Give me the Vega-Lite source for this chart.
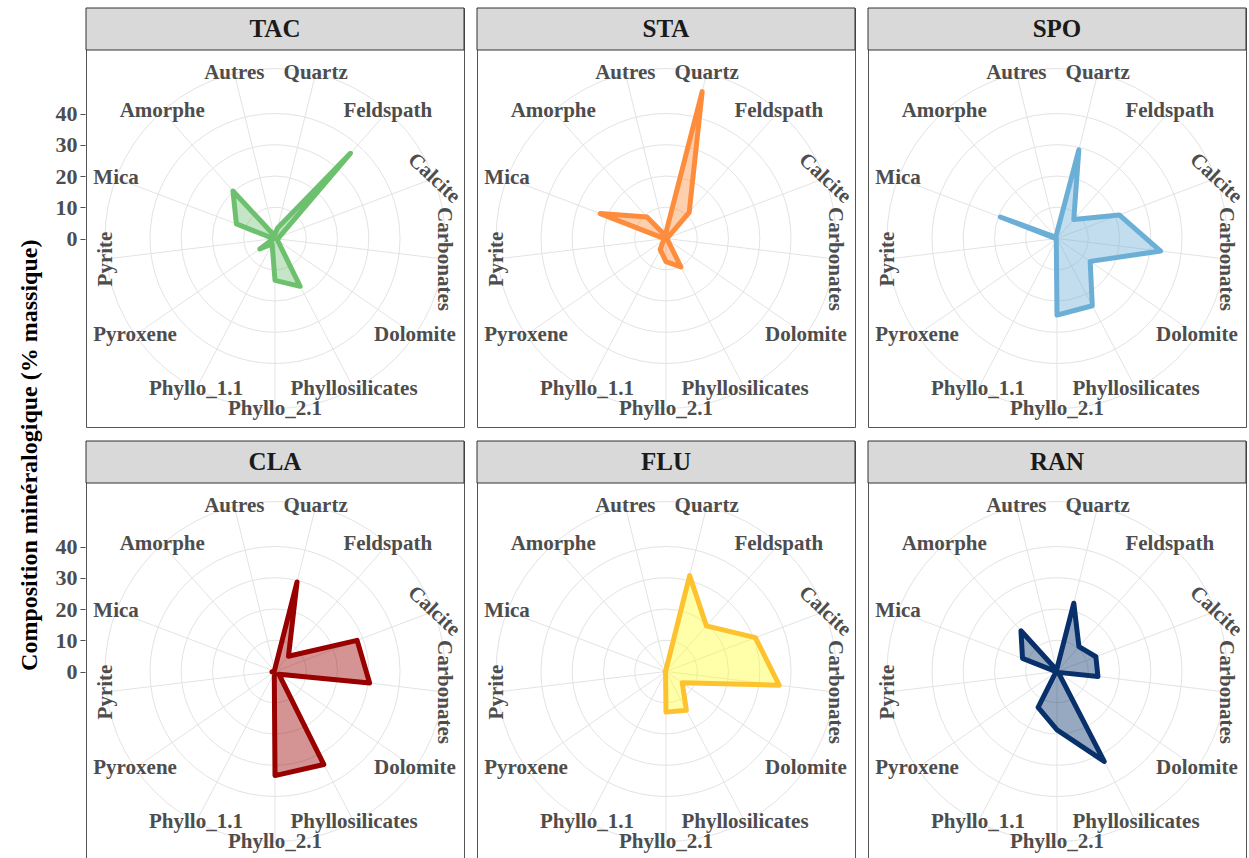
{
  "$schema": "https://vega.github.io/schema/vega-lite/v6.json",
  "padding": {"left": 17, "top": 6, "right": 0, "bottom": 0},
  "background": "white",
  "title": {"text": "Composition minéralogique (% massique)", "orient": "left", "anchor": "middle", "font": "Liberation Serif", "fontSize": 24, "fontWeight": "bold", "color": "#000000", "offset": 13, "dx": -22},
  "data": {"values": [
    {"site": "TAC", "mineral": "Quartz", "value": 3.5},
    {"site": "TAC", "mineral": "Feldspath", "value": 36.4},
    {"site": "TAC", "mineral": "Calcite", "value": 1.5},
    {"site": "TAC", "mineral": "Carbonates", "value": 1.0},
    {"site": "TAC", "mineral": "Dolomite", "value": 1.0},
    {"site": "TAC", "mineral": "Phyllosilicates", "value": 17.3},
    {"site": "TAC", "mineral": "Phyllo_2.1", "value": 13.4},
    {"site": "TAC", "mineral": "Phyllo_1.1", "value": 2.0},
    {"site": "TAC", "mineral": "Pyroxene", "value": 5.9},
    {"site": "TAC", "mineral": "Pyrite", "value": 0.5},
    {"site": "TAC", "mineral": "Mica", "value": 13.2},
    {"site": "TAC", "mineral": "Amorphe", "value": 20.3},
    {"site": "TAC", "mineral": "Autres", "value": 1.0},
    {"site": "STA", "mineral": "Quartz", "value": 48.4},
    {"site": "STA", "mineral": "Feldspath", "value": 11.2},
    {"site": "STA", "mineral": "Calcite", "value": 0.5},
    {"site": "STA", "mineral": "Carbonates", "value": 0.5},
    {"site": "STA", "mineral": "Dolomite", "value": 0.5},
    {"site": "STA", "mineral": "Phyllosilicates", "value": 10.3},
    {"site": "STA", "mineral": "Phyllo_2.1", "value": 7.4},
    {"site": "STA", "mineral": "Phyllo_1.1", "value": 4.0},
    {"site": "STA", "mineral": "Pyroxene", "value": 1.0},
    {"site": "STA", "mineral": "Pyrite", "value": 0.5},
    {"site": "STA", "mineral": "Mica", "value": 22.5},
    {"site": "STA", "mineral": "Amorphe", "value": 9.2},
    {"site": "STA", "mineral": "Autres", "value": 1.0},
    {"site": "SPO", "mineral": "Quartz", "value": 29.2},
    {"site": "SPO", "mineral": "Feldspath", "value": 8.1},
    {"site": "SPO", "mineral": "Calcite", "value": 21.3},
    {"site": "SPO", "mineral": "Carbonates", "value": 33.4},
    {"site": "SPO", "mineral": "Dolomite", "value": 12.9},
    {"site": "SPO", "mineral": "Phyllosilicates", "value": 24.3},
    {"site": "SPO", "mineral": "Phyllo_2.1", "value": 24.5},
    {"site": "SPO", "mineral": "Phyllo_1.1", "value": 0.5},
    {"site": "SPO", "mineral": "Pyroxene", "value": 0.3},
    {"site": "SPO", "mineral": "Pyrite", "value": 0.3},
    {"site": "SPO", "mineral": "Mica", "value": 19.4},
    {"site": "SPO", "mineral": "Amorphe", "value": 0.5},
    {"site": "SPO", "mineral": "Autres", "value": 1.0},
    {"site": "CLA", "mineral": "Quartz", "value": 29.5},
    {"site": "CLA", "mineral": "Feldspath", "value": 6.5},
    {"site": "CLA", "mineral": "Calcite", "value": 28.1},
    {"site": "CLA", "mineral": "Carbonates", "value": 30.5},
    {"site": "CLA", "mineral": "Dolomite", "value": 1.5},
    {"site": "CLA", "mineral": "Phyllosilicates", "value": 33.6},
    {"site": "CLA", "mineral": "Phyllo_2.1", "value": 33.3},
    {"site": "CLA", "mineral": "Phyllo_1.1", "value": 0.5},
    {"site": "CLA", "mineral": "Pyroxene", "value": 0.3},
    {"site": "CLA", "mineral": "Pyrite", "value": 1.0},
    {"site": "CLA", "mineral": "Mica", "value": 0.3},
    {"site": "CLA", "mineral": "Amorphe", "value": 0.3},
    {"site": "CLA", "mineral": "Autres", "value": 0.5},
    {"site": "FLU", "mineral": "Quartz", "value": 31.6},
    {"site": "FLU", "mineral": "Feldspath", "value": 19.5},
    {"site": "FLU", "mineral": "Calcite", "value": 30.6},
    {"site": "FLU", "mineral": "Carbonates", "value": 36.5},
    {"site": "FLU", "mineral": "Dolomite", "value": 6.3},
    {"site": "FLU", "mineral": "Phyllosilicates", "value": 14.0},
    {"site": "FLU", "mineral": "Phyllo_2.1", "value": 13.0},
    {"site": "FLU", "mineral": "Phyllo_1.1", "value": 0.3},
    {"site": "FLU", "mineral": "Pyroxene", "value": 0.3},
    {"site": "FLU", "mineral": "Pyrite", "value": 0.3},
    {"site": "FLU", "mineral": "Mica", "value": 0.3},
    {"site": "FLU", "mineral": "Amorphe", "value": 0.3},
    {"site": "FLU", "mineral": "Autres", "value": 0.3},
    {"site": "RAN", "mineral": "Quartz", "value": 22.5},
    {"site": "RAN", "mineral": "Feldspath", "value": 10.6},
    {"site": "RAN", "mineral": "Calcite", "value": 13.3},
    {"site": "RAN", "mineral": "Carbonates", "value": 13.2},
    {"site": "RAN", "mineral": "Dolomite", "value": 0.5},
    {"site": "RAN", "mineral": "Phyllosilicates", "value": 32.5},
    {"site": "RAN", "mineral": "Phyllo_2.1", "value": 18.7},
    {"site": "RAN", "mineral": "Phyllo_1.1", "value": 13.0},
    {"site": "RAN", "mineral": "Pyroxene", "value": 0.5},
    {"site": "RAN", "mineral": "Pyrite", "value": 0.3},
    {"site": "RAN", "mineral": "Mica", "value": 11.8},
    {"site": "RAN", "mineral": "Amorphe", "value": 17.4},
    {"site": "RAN", "mineral": "Autres", "value": 0.5}
  ]},
  "transform": [
    {"calculate": "indexof(['Quartz','Feldspath','Calcite','Carbonates','Dolomite','Phyllosilicates','Phyllo_2.1','Phyllo_1.1','Pyroxene','Pyrite','Mica','Amorphe','Autres'], datum.mineral) + 1", "as": "idx"},
    {"calculate": "(datum.idx - 0.5) * 2 * PI / 13", "as": "ang"},
    {"calculate": "datum.value * sin(datum.ang)", "as": "px"},
    {"calculate": "datum.value * cos(datum.ang)", "as": "py"},
    {"calculate": "54.4 * sin(datum.ang)", "as": "sx"},
    {"calculate": "54.4 * cos(datum.ang)", "as": "sy"},
    {"calculate": "0", "as": "c0"},
    {"calculate": "datum.mineral === 'Calcite' ? 43 : datum.mineral === 'Carbonates' ? 90 : datum.mineral === 'Pyrite' ? 270 : 0", "as": "rot"}
  ],
  "facet": {"field": "site", "type": "nominal", "sort": ["TAC", "STA", "SPO", "CLA", "FLU", "RAN"], "header": {"labels": false, "title": null, "labelExpr": "''", "labelFontSize": 1, "labelPadding": 0}},
  "columns": 3,
  "spacing": {"row": 11, "column": 11},
  "spec": {
    "width": 378,
    "height": 419,
    "layer": [
      {
        "transform": [
          {"filter": "datum.idx <= 5"},
          {"calculate": "[10, 20, 30, 40, 54.4][datum.idx - 1]", "as": "ring"}
        ],
        "mark": {"type": "point", "shape": "circle", "filled": false, "color": "#e3e3e3", "strokeWidth": 1, "opacity": 1},
        "encoding": {
          "x": {"field": "c0", "type": "quantitative", "scale": {"domain": [-60.48, 60.48], "nice": false, "zero": false}, "axis": null},
          "y": {"field": "c0", "type": "quantitative", "scale": {"domain": [-60.32, 73.76], "nice": false, "zero": false}, "axis": {"values": [0, 10, 20, 30, 40]}, "title": null},
          "size": {"field": "ring", "type": "quantitative", "scale": {"type": "pow", "exponent": 2, "domain": [0, 54.4], "range": [0, 115600]}, "legend": null}
        }
      },
      {
        "mark": {"type": "rule", "color": "#e3e3e3", "strokeWidth": 1},
        "encoding": {
          "x": {"field": "c0", "type": "quantitative"},
          "y": {"field": "c0", "type": "quantitative", "title": null},
          "x2": {"field": "sx"},
          "y2": {"field": "sy"}
        }
      },
      {
        "mark": {"type": "line", "interpolate": "linear-closed", "strokeWidth": 5, "strokeJoin": "round", "fillOpacity": 0.42},
        "encoding": {
          "x": {"field": "px", "type": "quantitative"},
          "y": {"field": "py", "type": "quantitative", "title": null},
          "order": {"field": "idx", "type": "quantitative"},
          "color": {"field": "site", "type": "nominal", "scale": {"domain": ["TAC", "STA", "SPO", "CLA", "FLU", "RAN"], "range": ["#6cc06e", "#fd8d3c", "#6baed6", "#990000", "#fdc22e", "#08306b"]}, "legend": null},
          "fill": {"field": "site", "type": "nominal", "scale": {"domain": ["TAC", "STA", "SPO", "CLA", "FLU", "RAN"], "range": ["#74c476", "#fd8d3c", "#6baed6", "#990000", "#ffff33", "#08306b"]}, "legend": null}
        }
      },
      {
        "mark": {"type": "text", "font": "Liberation Serif", "fontWeight": "bold", "fontSize": 21, "color": "#4d4d4d", "align": "center", "baseline": "middle"},
        "encoding": {
          "x": {"field": "sx", "type": "quantitative"},
          "y": {"field": "sy", "type": "quantitative", "title": null},
          "text": {"field": "mineral", "type": "nominal"},
          "angle": {"field": "rot", "type": "quantitative", "scale": null}
        }
      },
      {
        "transform": [
          {"filter": "datum.mineral === 'Quartz'"},
          {"calculate": "-60.48", "as": "sl"},
          {"calculate": "60.48", "as": "sr"},
          {"calculate": "60.32", "as": "sb"},
          {"calculate": "73.76", "as": "st"},
          {"calculate": "67.04", "as": "sm"}
        ],
        "layer": [
          {
            "mark": {"type": "rect", "fill": "#d9d9d9", "stroke": "#333333", "strokeWidth": 1},
            "encoding": {
              "x": {"field": "sl", "type": "quantitative"},
              "x2": {"field": "sr"},
              "y": {"field": "sb", "type": "quantitative", "title": null},
              "y2": {"field": "st"}
            }
          },
          {
            "mark": {"type": "text", "font": "Liberation Serif", "fontWeight": "bold", "fontSize": 25, "color": "#1a1a1a", "align": "center", "baseline": "middle"},
            "encoding": {
              "x": {"field": "c0", "type": "quantitative"},
              "y": {"field": "sm", "type": "quantitative", "title": null},
              "text": {"field": "site", "type": "nominal"}
            }
          }
        ]
      }
    ]
  },
  "config": {
    "view": {"stroke": "#555555", "strokeWidth": 1},
    "font": "Liberation Serif",
    "axisX": {"disable": true},
    "headerFacet": {"labels": false, "title": null, "labelPadding": 0},
    "axisY": {
      "domain": false, "grid": false, "ticks": true, "tickColor": "#4d4d4d", "tickSize": 5, "tickWidth": 1,
      "labelFont": "Liberation Serif", "labelFontSize": 22, "labelFontWeight": "bold", "labelColor": "#4d4d4d", "labelPadding": 3
    }
  }
}
